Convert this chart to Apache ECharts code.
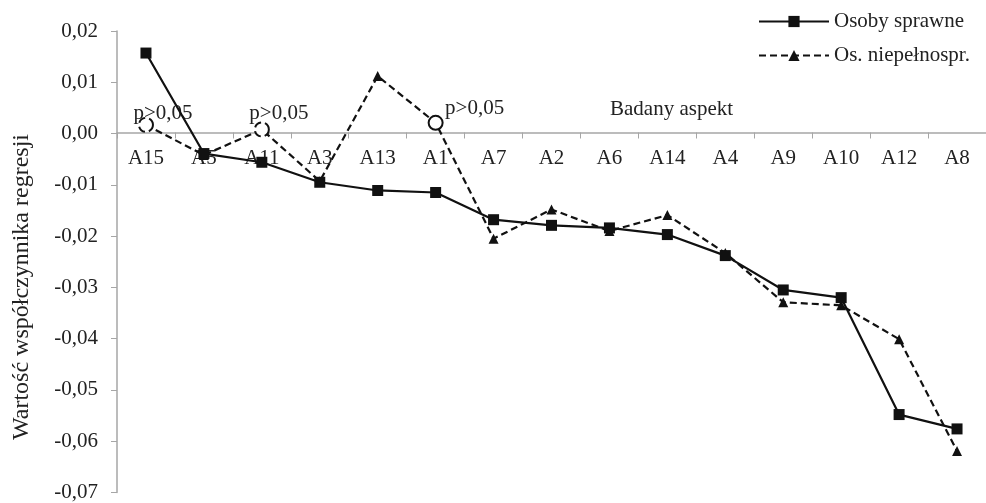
<!DOCTYPE html>
<html><head><meta charset="utf-8">
<script src="https://cdn.jsdelivr.net/npm/echarts@6/dist/echarts.min.js"></script>
<style>html,body{margin:0;padding:0;background:#fff}#c{width:986px;height:503px}</style>
</head><body><div id="c"></div>
<script>
const categories = ['A15','A5','A11','A3','A13','A1','A7','A2','A6','A14','A4','A9','A10','A12','A8'];
const sprawne = [0.0157,-0.0039,-0.0056,-0.0095,-0.0111,-0.0115,-0.0168,-0.0179,-0.0184,-0.0197,-0.0238,-0.0305,-0.0320,-0.0548,-0.0576];
const niepelnospr = [0.0017,-0.0042,0.0008,-0.0093,0.0112,0.0021,-0.0205,-0.0148,-0.0190,-0.0159,-0.0233,-0.0329,-0.0335,-0.0401,-0.0619];
const nonSignificant = ['A15','A11','A1'];
const sigLabel = 'p>0,05';
const yTicks = {min:-0.07, max:0.02, interval:0.01};
const yName = 'Wartość współczynnika regresji';
const xName = 'Badany aspekt';

const font = 'Liberation Serif';
const txt = '#222';
const axisGray = '#a6a6a6';
const labelOffsets = {A15:[17,12], A11:[17,8], A1:[39,9]};

const nData = niepelnospr.map((v,i)=>{
  const c = categories[i];
  if (nonSignificant.includes(c)) {
    return {
      value: v, symbol:'circle', symbolSize:14,
      itemStyle:{color:'#fff', borderColor:'#111', borderWidth:2, borderType: c==='A1'?'solid':'dashed'},
      label:{show:true, formatter:sigLabel, position:'top', offset:labelOffsets[c], fontFamily:font, fontSize:21, color:txt}
    };
  }
  return v;
});

const chart = echarts.init(document.getElementById('c'));
chart.setOption({
  animation:false,
  textStyle:{fontFamily:font},
  grid:{left:117, top:31, width:875, height:463},
  title:{text:xName, left:610, top:99, padding:0, textStyle:{fontFamily:font, fontSize:21, fontWeight:'normal', color:txt}},
  graphic:[{type:'text', x:22, y:287, rotation:Math.PI/2,
    style:{text:yName, fontFamily:font, fontSize:24, fill:txt, align:'center', verticalAlign:'middle'}}],
  legend:{
    orient:'vertical', left:758, top:11, itemWidth:70, itemHeight:14, itemGap:13, padding:0,
    textStyle:{fontFamily:font, fontSize:21, color:txt},
    data:['Osoby sprawne','Os. niepełnospr.']
  },
  xAxis:{
    type:'category', data:categories, boundaryGap:true, position:'bottom', offset:-360,
    axisLine:{onZero:false, lineStyle:{color:axisGray, width:1.5}},
    axisTick:{show:true, length:6, inside:false, lineStyle:{color:axisGray}},
    axisLabel:{fontFamily:font, fontSize:21, color:txt, margin:15, interval:0}
  },
  yAxis:{
    type:'value', min:yTicks.min, max:yTicks.max, interval:yTicks.interval,
    splitLine:{show:false},
    axisLine:{show:true, lineStyle:{color:axisGray, width:1.5}},
    axisTick:{show:true, length:6, lineStyle:{color:axisGray}},
    axisLabel:{fontFamily:font, fontSize:21, color:txt, margin:19,
      formatter:v=>{ const s=(Math.round(v*100)/100).toFixed(2).replace('.',','); return s==='-0,00'?'0,00':s; }}
  },
  series:[
    {name:'Osoby sprawne', type:'line', data:sprawne, symbol:'rect', symbolSize:11,
     lineStyle:{color:'#111', width:2.2}, itemStyle:{color:'#111'}, z:3},
    {name:'Os. niepełnospr.', type:'line', data:nData, symbol:'triangle', symbolSize:10,
     lineStyle:{color:'#111', width:2.2, type:[7,4]}, itemStyle:{color:'#111'}, z:2}
  ]
});
</script></body></html>
